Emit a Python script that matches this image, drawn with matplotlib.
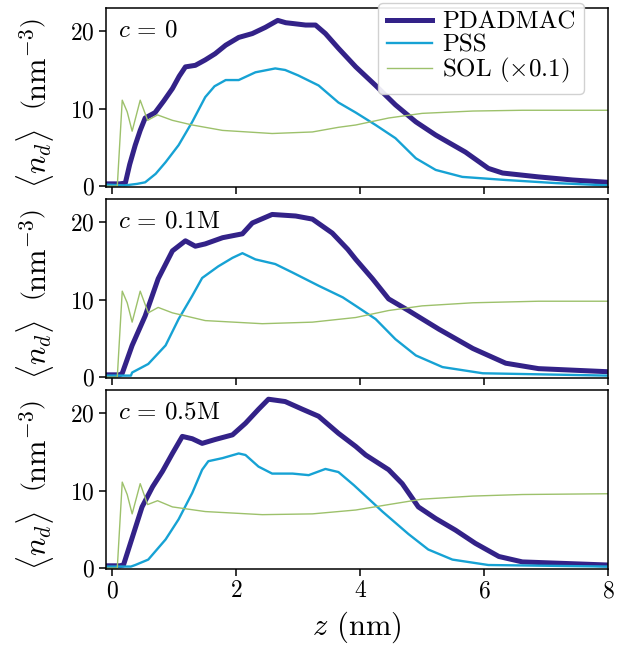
import matplotlib
matplotlib.use("Agg")
import matplotlib.pyplot as plt

plt.rcParams['font.family'] = 'serif'
plt.rcParams['font.serif'] = ['cmr10']
plt.rcParams['mathtext.fontset'] = 'cm'
plt.rcParams['axes.formatter.use_mathtext'] = True
plt.rcParams['axes.unicode_minus'] = False

# --- data (z in nm, densities in nm^-3) ---
labels = ['PDADMAC', 'PSS', r'SOL ($\times0.1$)']
panel_titles = [r'$c\,=\,0$', r'$c\,=\,0.1\mathrm{M}$', r'$c\,=\,0.5\mathrm{M}$']

# c = 0
z_pd0 = [-0.1, 0.12, 0.21, 0.28, 0.37, 0.45, 0.53, 0.69, 0.83, 0.97, 1.08, 1.18, 1.34, 1.5, 1.66,
         1.83, 2.04, 2.26, 2.47, 2.67, 2.8, 2.91, 3.12, 3.28, 3.44, 3.65, 3.93, 4.25, 4.57, 4.9,
         5.22, 5.7, 6.07, 6.3, 6.88, 7.43, 8.0]
pd0 = [0.3, 0.3, 0.4, 2.8, 5.3, 7.2, 8.8, 9.5, 11.0, 12.6, 14.2, 15.4, 15.6, 16.3, 17.1,
       18.2, 19.2, 19.7, 20.5, 21.4, 21.1, 21.0, 20.8, 20.8, 19.7, 17.8, 15.4, 13.0, 10.5, 8.3,
       6.6, 4.4, 2.3, 1.7, 1.2, 0.8, 0.5]
z_ps0 = [-0.1, 0.2, 0.4, 0.53, 0.7, 0.86, 1.07, 1.29, 1.5, 1.65, 1.83, 2.04, 2.31, 2.63, 2.79,
         3.0, 3.33, 3.65, 3.93, 4.25, 4.57, 4.9, 5.22, 5.65, 6.35, 7.16, 8.0]
ps0 = [0.2, 0.1, 0.3, 0.5, 1.6, 3.1, 5.3, 8.3, 11.5, 12.9, 13.7, 13.7, 14.7, 15.2, 15.0,
       14.3, 13.0, 10.8, 9.5, 7.9, 6.2, 3.6, 2.1, 1.2, 0.8, 0.4, 0.1]
z_sol0 = [-0.1, 0.08, 0.16, 0.24, 0.32, 0.45, 0.57, 0.73, 0.97, 1.29, 1.78, 2.58, 3.23, 3.65,
          3.93, 4.46, 5.0, 5.82, 6.62, 8.0]
sol0 = [0.0, 0.0, 11.1, 9.6, 7.1, 11.1, 8.5, 9.2, 8.5, 7.9, 7.2, 6.8, 7.0, 7.6,
        7.9, 8.8, 9.4, 9.7, 9.8, 9.8]

# c = 0.1M
z_pd1 = [-0.1, 0.12, 0.16, 0.32, 0.53, 0.74, 0.97, 1.18, 1.34, 1.5, 1.78, 2.1, 2.26, 2.58, 2.96,
         3.23, 3.55, 3.8, 3.93, 4.2, 4.46, 4.78, 5.27, 5.82, 6.35, 6.88, 8.0]
pd1 = [0.3, 0.3, 0.5, 4.1, 7.9, 12.7, 16.3, 17.6, 16.9, 17.2, 18.0, 18.5, 19.9, 21.0, 20.8,
       20.4, 18.6, 16.5, 15.2, 12.7, 10.1, 8.6, 6.2, 3.7, 1.8, 1.1, 0.7]
z_ps1 = [-0.1, 0.3, 0.32, 0.58, 0.86, 1.07, 1.29, 1.45, 1.71, 1.94, 2.1, 2.31, 2.63, 2.91, 3.33,
         3.72, 3.93, 4.25, 4.57, 4.9, 5.33, 5.98, 8.0]
ps1 = [0.2, 0.2, 0.6, 1.7, 4.1, 7.5, 10.5, 12.8, 14.3, 15.4, 16.0, 15.2, 14.6, 13.5, 11.8,
       10.3, 9.2, 7.5, 4.9, 2.8, 1.3, 0.5, 0.2]
z_sol1 = [-0.1, 0.08, 0.16, 0.24, 0.32, 0.45, 0.58, 0.74, 0.97, 1.5, 2.42, 3.23, 3.93, 4.46,
          5.0, 5.82, 6.88, 8.0]
sol1 = [0.0, 0.0, 11.1, 9.6, 7.1, 11.1, 8.3, 9.0, 8.3, 7.3, 6.9, 7.1, 7.7, 8.6,
        9.2, 9.6, 9.8, 9.8]

# c = 0.5M
z_pd2 = [-0.1, 0.12, 0.18, 0.34, 0.48, 0.65, 0.81, 0.97, 1.13, 1.29, 1.45, 1.66, 1.94, 2.15,
         2.36, 2.52, 2.79, 3.07, 3.33, 3.65, 3.93, 4.09, 4.46, 4.68, 4.94, 5.22, 5.54, 5.86,
         6.24, 6.62, 8.0]
pd2 = [0.3, 0.3, 0.4, 4.4, 7.9, 10.5, 12.5, 14.8, 17.0, 16.7, 16.1, 16.6, 17.2, 18.7,
       20.5, 21.8, 21.5, 20.5, 19.6, 17.4, 15.7, 14.6, 12.7, 10.9, 7.9, 6.4, 4.9, 3.2,
       1.5, 0.8, 0.4]
z_ps2 = [-0.1, 0.3, 0.37, 0.58, 0.86, 1.07, 1.29, 1.45, 1.55, 1.78, 2.04, 2.15, 2.36, 2.58,
         2.91, 3.17, 3.44, 3.65, 3.9, 4.36, 4.78, 5.1, 5.49, 6.07, 8.0]
ps2 = [0.2, 0.2, 0.4, 1.1, 3.7, 6.3, 9.7, 12.7, 13.8, 14.2, 14.8, 14.6, 13.1, 12.2,
       12.2, 12.0, 12.8, 12.4, 10.7, 7.3, 4.4, 2.4, 1.1, 0.4, 0.2]
z_sol2 = [-0.1, 0.08, 0.16, 0.24, 0.32, 0.45, 0.57, 0.73, 0.97, 1.5, 2.42, 3.23, 3.93, 4.46,
          5.0, 5.82, 6.62, 8.0]
sol2 = [0.0, 0.0, 11.1, 9.5, 7.0, 10.9, 8.2, 8.7, 7.9, 7.3, 6.9, 7.0, 7.5, 8.2,
        8.9, 9.3, 9.5, 9.6]

panels = [
    ((z_pd0, pd0), (z_ps0, ps0), (z_sol0, sol0)),
    ((z_pd1, pd1), (z_ps1, ps1), (z_sol1, sol1)),
    ((z_pd2, pd2), (z_ps2, ps2), (z_sol2, sol2)),
]

colors = ['#332288', '#16a2d4', '#9dc16b']
widths = [3.6, 1.7, 1.0]

fig, axes = plt.subplots(3, 1, sharex=True, figsize=(6.28, 6.45), dpi=100)
fig.subplots_adjust(left=0.169, right=0.968, top=0.9876, bottom=0.118, hspace=0.067)

for ax, series, title in zip(axes, panels, panel_titles):
    for (z, v), col, lw, lab in zip(series, colors, widths, labels):
        ax.plot(z, v, color=col, lw=lw, label=lab)
    ax.set_xlim(-0.1, 8)
    ax.set_ylim(-0.1, 23)
    ax.set_yticks([0, 10, 20])
    ax.set_xticks([0, 2, 4, 6, 8])
    ax.tick_params(labelsize=17, length=5, width=1.1, pad=3)
    for s in ax.spines.values():
        s.set_linewidth(1.1)
    ax.text(0.024, 0.872, title, transform=ax.transAxes, fontsize=18, va='center', ha='left')
    ax.set_ylabel(r'$\langle n_d \rangle\ \ \left(\mathrm{nm}^{-3}\right)$', fontsize=22)
    ax.yaxis.set_label_coords(-0.1, 0.47)

axes[0].legend(loc='upper right', bbox_to_anchor=(0.953, 1.03), fontsize=18,
               handlelength=1.8, labelspacing=0.0, borderpad=0.35, handletextpad=0.4,
               borderaxespad=0.0, framealpha=0.9)
axes[-1].set_xlabel(r'$z$ (nm)', fontsize=22, labelpad=5)

plt.savefig('out.png', dpi=100)
